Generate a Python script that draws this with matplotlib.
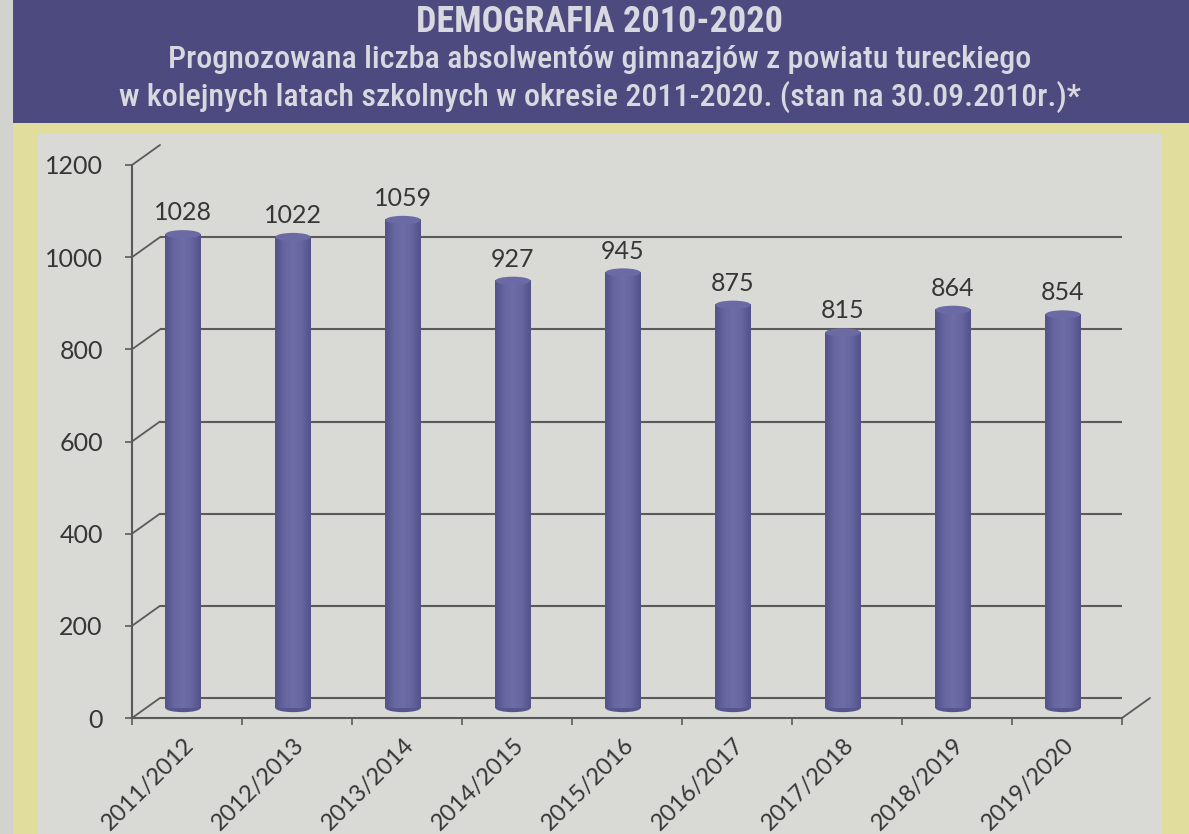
import matplotlib
matplotlib.use('Agg')
import matplotlib.pyplot as plt
from matplotlib.transforms import offset_copy
from matplotlib.patches import Rectangle, Ellipse, ConnectionPatch
from matplotlib.colors import LinearSegmentedColormap
import numpy as np

# ---------------- data ----------------
categories = ['2011/2012', '2012/2013', '2013/2014', '2014/2015', '2015/2016',
              '2016/2017', '2017/2018', '2018/2019', '2019/2020']
values = [1028, 1022, 1059, 927, 945, 875, 815, 864, 854]
yticks = [0, 200, 400, 600, 800, 1000, 1200]
title = 'DEMOGRAFIA 2010-2020'
subtitle1 = 'Prognozowana liczba absolwentów gimnazjów z powiatu tureckiego'
subtitle2 = 'w kolejnych latach szkolnych w okresie 2011-2020. (stan na 30.09.2010r.)*'

# ---------------- style ----------------
plt.rcParams['font.family'] = ['Lato', 'DejaVu Sans']
W, H = 1189, 834
HEADER = '#4c4a7e'
YELLOW = '#e0dd9d'
PANEL = '#d9d9d6'
OUTER = '#d2d2ce'
GRID = '#5a5a5a'
TXT = '#363636'

fig = plt.figure(figsize=(W / 100, H / 100), dpi=100)
fig.patch.set_facecolor(OUTER)


def rect(x0, y0, x1, y1, color):
    fig.add_artist(Rectangle((x0 / W, 1 - y1 / H), (x1 - x0) / W, (y1 - y0) / H,
                             transform=fig.transFigure, color=color, lw=0, zorder=0))


rect(13, 0, W, 123, HEADER)
rect(13, 123, W, H, YELLOW)
rect(38, 134, 1162, H, PANEL)

# header texts
hfont = ['Roboto Condensed', 'Open Sans Condensed', 'IBM Plex Sans Condensed',
         'DejaVu Sans']
HTXT = '#d8d8e0'
fig.text(600 / W, 1 - 22 / H, title, ha='center', va='center', fontsize=26,
         fontweight='bold', family=hfont, color=HTXT)
fig.text(600 / W, 1 - 60 / H, subtitle1, ha='center', va='center', fontsize=23,
         fontweight='medium', family=hfont, color=HTXT)
fig.text(600 / W, 1 - 97 / H, subtitle2, ha='center', va='center', fontsize=23,
         fontweight='medium', family=hfont, color=HTXT)

# ---------------- chart ----------------
ax = fig.add_axes([132 / W, 1 - 718 / H, 990 / W, 553 / H])
ax.set_facecolor('none')
n = len(categories)
x = np.arange(n)
ax.set_xlim(-0.5, n - 0.5)
ax.set_ylim(0, 1200)

back = offset_copy(ax.transData, fig=fig, x=28, y=20, units='dots')
bar_tr = offset_copy(ax.transData, fig=fig, x=-4, y=10, units='dots')
lab_tr = offset_copy(ax.transData, fig=fig, x=-4, y=24, units='dots')
xl_tr = offset_copy(ax.transData, fig=fig, x=4, y=-24, units='dots')

# back wall grid lines + side diagonals
for v in yticks:
    ax.plot([-0.5, n - 0.5], [v, v], transform=back, color=GRID, lw=1.5,
            zorder=1, solid_capstyle='butt')
    cp = ConnectionPatch((-0.5, v), (-0.5, v), coordsA=ax.transData, coordsB=back,
                         color=GRID, lw=1.3, zorder=1)
    ax.add_artist(cp)
cp = ConnectionPatch((n - 0.5, 0), (n - 0.5, 0), coordsA=ax.transData, coordsB=back,
                     color=GRID, lw=1.3, zorder=1)
ax.add_artist(cp)

# cylinder bars
bw = 0.32
cmap = LinearSegmentedColormap.from_list('cyl', ['#54528a', '#6765a0', '#6f6da7',
                                                 '#6765a0', '#54528a'])
grad = np.linspace(0, 1, 64).reshape(1, -1)
bars = ax.bar(x, values, width=bw, color='#64629b', zorder=3, lw=0)
for xi, v, p in zip(x, values, bars):
    p.set_transform(bar_tr)
    ax.add_patch(Ellipse((xi, 0), bw, 18, transform=bar_tr, color='#57558d',
                         zorder=2.9, lw=0))
    ax.imshow(grad, extent=(xi - bw / 2, xi + bw / 2, 0, v), aspect='auto',
              cmap=cmap, transform=bar_tr, clip_path=p, zorder=3.1,
              interpolation='bilinear')
    ax.add_patch(Ellipse((xi, v), bw, 18, transform=bar_tr, color='#6c6aa4',
                         zorder=3.2, lw=0))
    ax.text(xi, v, f'{v}', transform=lab_tr, ha='center', va='baseline',
            fontsize=18, color=TXT)

ax.set_xlim(-0.5, n - 0.5)
ax.set_ylim(0, 1200)

# axes / ticks
for s in ['top', 'right']:
    ax.spines[s].set_visible(False)
for s in ['left', 'bottom']:
    ax.spines[s].set_color(GRID)
    ax.spines[s].set_linewidth(1.5)
ax.set_yticks(yticks)
ax.tick_params(axis='y', length=5, width=1.2, color=GRID, pad=16,
               labelsize=18, labelcolor=TXT)
ax.set_xticks(np.arange(-0.5, n, 1.0))
ax.set_xticklabels([])
ax.tick_params(axis='x', length=5, width=1.2, color=GRID)
for xi, c in zip(x, categories):
    ax.text(xi, 0, c, transform=xl_tr, rotation=45, rotation_mode='anchor',
            ha='right', va='center', fontsize=17, color=TXT)

fig.savefig('out.png', dpi=100, facecolor=fig.get_facecolor())
